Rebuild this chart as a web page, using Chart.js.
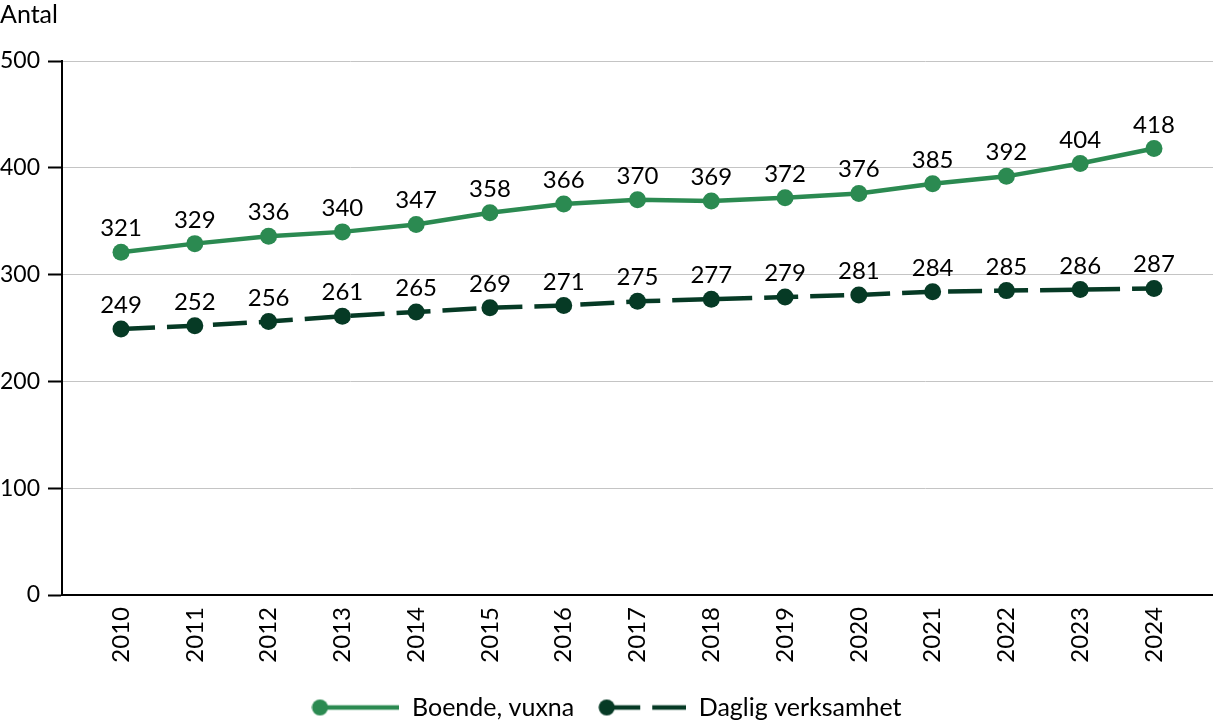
<!DOCTYPE html>
<html>
<head>
<meta charset="utf-8">
<script src="https://cdn.jsdelivr.net/npm/chart.js@4.4.0/dist/chart.umd.min.js"></script>
<style>
    html, body { margin: 0; padding: 0; background: #ffffff; }
    #wrap { width: 1213px; height: 722px; }
</style>
</head>
<body>
<div id="wrap"><canvas id="lineChart"></canvas></div>
<script>
// Data
var years = [2010, 2011, 2012, 2013, 2014, 2015, 2016, 2017, 2018, 2019, 2020, 2021, 2022, 2023, 2024];
var boendeVuxna = [321, 329, 336, 340, 347, 358, 366, 370, 369, 372, 376, 385, 392, 404, 418];
var dagligVerksamhet = [249, 252, 256, 261, 265, 269, 271, 275, 277, 279, 281, 284, 285, 286, 287];
var yTicks = [0, 100, 200, 300, 400, 500];

var green = '#2b8a51';
var darkGreen = '#063a25';
var fontFamily = 'Lato, "Open Sans", sans-serif';

Chart.defaults.font.family = fontFamily;
Chart.defaults.color = '#000000';

// Legend symbol: line with a dot on its left end
function legendSymbol(color, dash) {
    var c = document.createElement('canvas');
    c.width = 88;
    c.height = 20;
    var g = c.getContext('2d');
    g.strokeStyle = color;
    g.lineWidth = 4.5;
    g.setLineDash(dash);
    g.beginPath();
    g.moveTo(8, 10);
    g.lineTo(88, 10);
    g.stroke();
    g.fillStyle = color;
    g.beginPath();
    g.arc(8.5, 10, 8, 0, Math.PI * 2);
    g.fill();
    return c;
}

// Value labels above each point
var valueLabels = {
    id: 'valueLabels',
    afterDatasetsDraw: function(chart) {
        var ctx = chart.ctx;
        ctx.save();
        ctx.font = '24px ' + fontFamily;
        ctx.fillStyle = '#000000';
        ctx.textAlign = 'center';
        ctx.textBaseline = 'alphabetic';
        chart.data.datasets.forEach(function(ds, i) {
            chart.getDatasetMeta(i).data.forEach(function(pt, j) {
                ctx.fillText(String(ds.data[j].y), pt.x, pt.y - 16);
            });
        });
        ctx.restore();
    }
};

function toPoints(values) {
    return values.map(function(v, i) { return { x: years[i], y: v }; });
}

var ctxLine = document.getElementById('lineChart').getContext('2d');
var lineChart = new Chart(ctxLine, {
    type: 'line',
    data: {
        datasets: [{
            label: 'Boende, vuxna',
            data: toPoints(boendeVuxna),
            borderColor: green,
            backgroundColor: green,
            borderWidth: 4.5,
            pointRadius: 8.5,
            pointBorderWidth: 0,
            pointStyleLegend: legendSymbol(green, []),
            tension: 0
        }, {
            label: 'Daglig verksamhet',
            data: toPoints(dagligVerksamhet),
            borderColor: darkGreen,
            backgroundColor: darkGreen,
            borderWidth: 4.5,
            borderDash: [34, 12],
            pointRadius: 8.5,
            pointBorderWidth: 0,
            pointStyleLegend: legendSymbol(darkGreen, [34, 12]),
            tension: 0
        }]
    },
    plugins: [valueLabels],
    options: {
        responsive: true,
        maintainAspectRatio: false,
        animation: false,
        layout: { autoPadding: false, padding: { left: 0, right: 0, top: 0, bottom: -8 } },
        scales: {
            x: {
                type: 'linear',
                min: 2009.2,
                max: 2024.8,
                afterBuildTicks: function(scale) {
                    scale.ticks = years.map(function(y) { return { value: y }; });
                },
                afterFit: function(scale) {
                    scale.height = 76;
                    scale.paddingRight = 0;
                },
                ticks: {
                    autoSkip: false,
                    minRotation: 90,
                    maxRotation: 90,
                    padding: 4,
                    font: { size: 24 },
                    callback: function(v) { return String(v); }
                },
                grid: { display: false },
                border: { display: true, color: '#000000', width: 2 }
            },
            y: {
                min: 0,
                max: 500,
                afterBuildTicks: function(scale) {
                    scale.ticks = yTicks.map(function(v) { return { value: v }; });
                },
                afterFit: function(scale) { scale.width = 62; },
                ticks: {
                    padding: 8,
                    font: { size: 23 },
                    callback: function(v) { return String(v); }
                },
                grid: {
                    color: '#c4c4c4',
                    lineWidth: 1,
                    tickLength: 14,
                    tickColor: '#000000',
                    tickWidth: 2
                },
                border: { display: true, color: '#000000', width: 2 }
            }
        },
        plugins: {
            title: {
                display: true,
                text: 'Antal',
                align: 'start',
                font: { size: 25, weight: 'normal' },
                color: '#000000',
                padding: { top: 0, bottom: 31 }
            },
            legend: {
                position: 'bottom',
                labels: {
                    usePointStyle: true,
                    pointStyleWidth: 88,
                    padding: 24,
                    font: { size: 25 },
                    color: '#000000',
                    generateLabels: function(chart) {
                        return chart.data.datasets.map(function(ds, i) {
                            return {
                                text: ds.label,
                                pointStyle: ds.pointStyleLegend,
                                fillStyle: ds.borderColor,
                                strokeStyle: ds.borderColor,
                                lineWidth: 0,
                                hidden: false,
                                datasetIndex: i
                            };
                        });
                    }
                }
            },
            tooltip: { enabled: false }
        }
    }
});
</script>
</body>
</html>
